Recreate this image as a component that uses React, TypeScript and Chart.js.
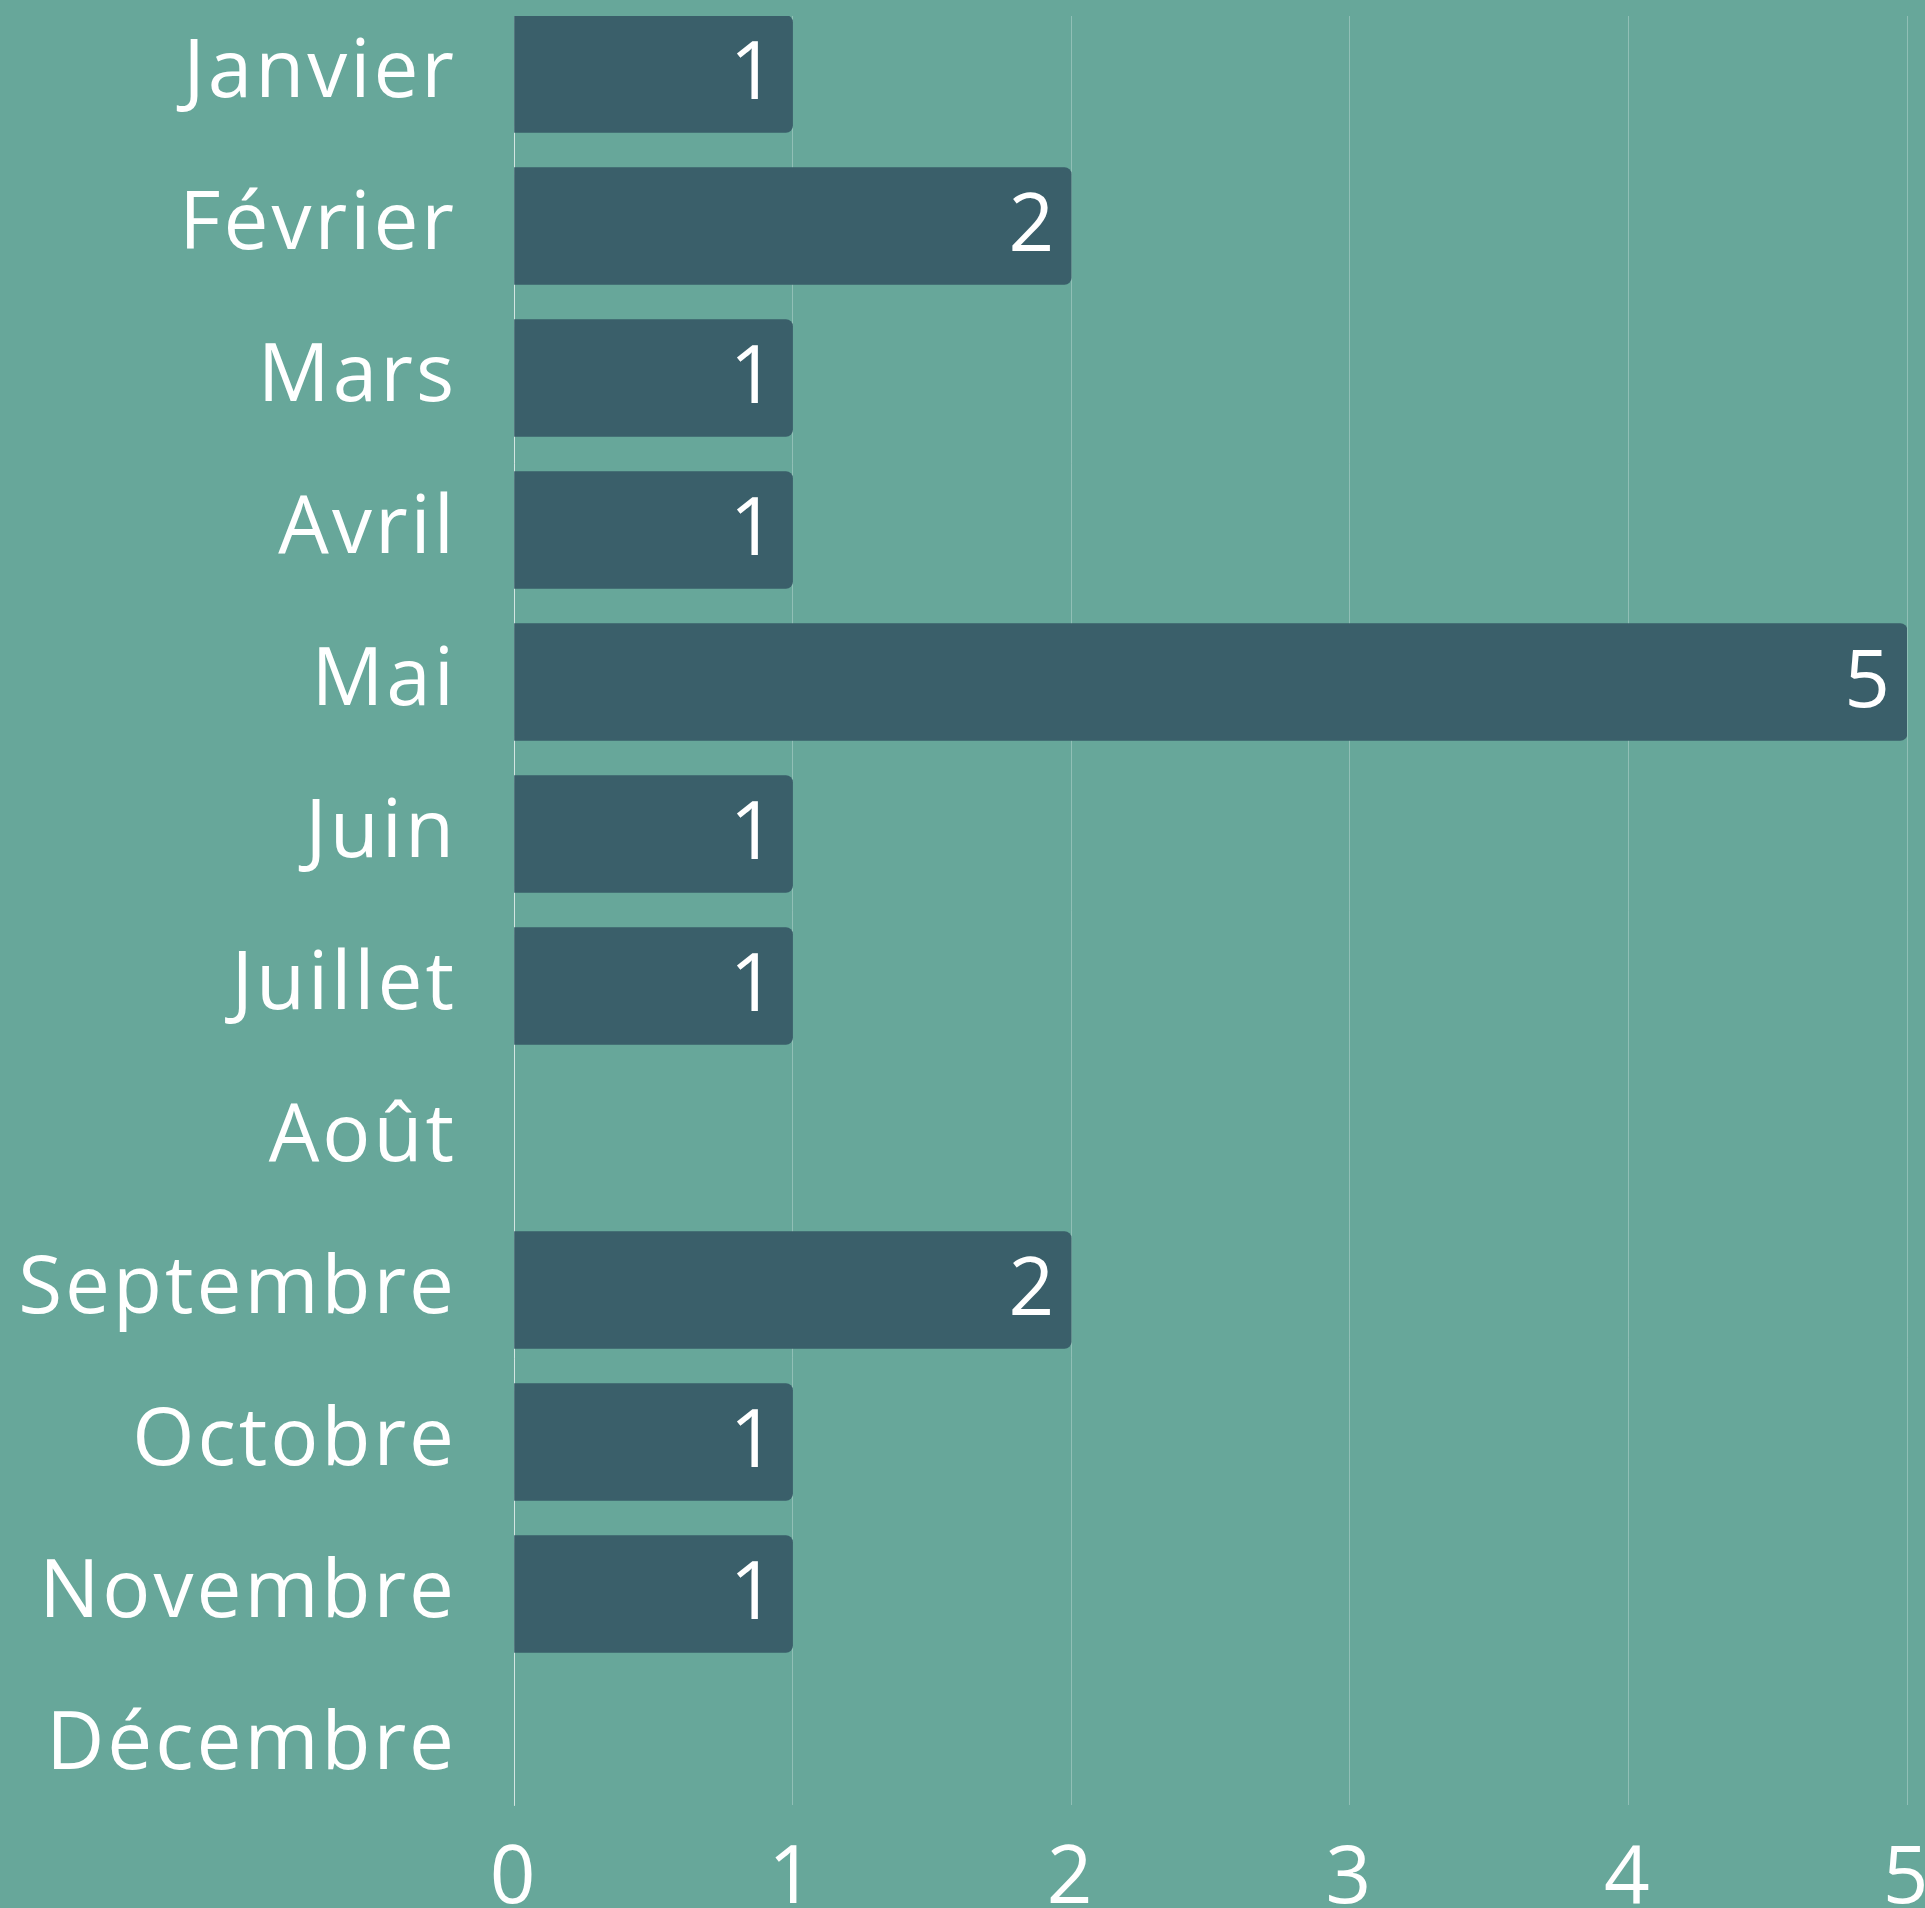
import React, { useEffect, useRef } from "react";
import { Chart, registerables } from "chart.js";

Chart.register(...registerables);

const months = [
  "Janvier", "Février", "Mars", "Avril", "Mai", "Juin",
  "Juillet", "Août", "Septembre", "Octobre", "Novembre", "Décembre",
];
const counts = [1, 2, 1, 1, 5, 1, 1, 0, 2, 1, 1, 0];
const xTicks = [0, 1, 2, 3, 4, 5];

const BG = "#67a79a";
const BAR = "#3a5f6a";
const FONT = "'Open Sans', 'Noto Sans', sans-serif";
const FS = 80;

const valueLabels = {
  id: "valueLabels",
  afterDatasetsDraw(chart: any) {
    const ctx = chart.ctx;
    const meta = chart.getDatasetMeta(0);
    ctx.save();
    ctx.letterSpacing = "0px";
    ctx.fillStyle = "#ffffff";
    ctx.font = `400 ${FS}px ${FONT}`;
    ctx.textAlign = "right";
    ctx.textBaseline = "middle";
    meta.data.forEach((el: any, i: number) => {
      const v = counts[i];
      if (!v) return;
      ctx.fillText(String(v), el.x - 17, el.y + 2);
    });
    ctx.restore();
  },
};

const bgPlugin = {
  id: "bgFill",
  beforeDraw(chart: any) {
    const ctx = chart.ctx;
    ctx.save();
    ctx.fillStyle = BG;
    ctx.fillRect(0, 0, chart.width, chart.height);
    ctx.restore();
    ctx.letterSpacing = "3px";
  },
};

export default function App() {
  const ref = useRef<HTMLCanvasElement | null>(null);
  useEffect(() => {
    document.body.style.margin = "0";
    document.body.style.background = BG;
    if (!ref.current) return;
    const chart = new Chart(ref.current, {
      type: "bar",
      data: {
        datasets: [
          {
            data: counts.map((v, i) => ({ x: v === 0 ? null : v, y: i })),
            backgroundColor: BAR,
            borderRadius: 7,
            borderSkipped: "start",
            barThickness: 117,
          },
        ],
      },
      options: {
        indexAxis: "y",
        responsive: false,
        animation: false,
        devicePixelRatio: 1,
        layout: { padding: { top: 16, right: 18, left: 0, bottom: 0 } },
        plugins: { legend: { display: false }, tooltip: { enabled: false } },
        scales: {
          y: {
            type: "linear",
            reverse: true,
            offset: false,
            min: -0.3816,
            max: 11.388,
            grid: { display: false, drawTicks: false, offset: false },
            border: { display: true, color: "rgba(255,255,255,0.6)", width: 1 },
            ticks: {
              stepSize: 1,
              includeBounds: false,
              autoSkip: false,
              padding: 57,
              color: "#ffffff",
              font: { family: FONT, size: FS },
              callback: (v: any) =>
                Number.isInteger(v) && months[v] !== undefined ? months[v] : "",
            },
            afterFit(scale: any) {
              scale.width = 514;
              scale.paddingTop = 0;
              scale.paddingBottom = 0;
            },
          },
          x: {
            type: "linear",
            min: xTicks[0],
            max: xTicks[xTicks.length - 1],
            grid: { color: "rgba(255,255,255,0.28)", lineWidth: 1, drawTicks: false },
            border: { display: false },
            ticks: {
              stepSize: 1,
              padding: 27,
              color: "#ffffff",
              font: { family: FONT, size: FS },
              maxRotation: 0,
            },
            afterFit(scale: any) {
              scale.height = 103;
              scale.paddingLeft = 0;
              scale.paddingRight = 0;
            },
          },
        },
      },
      plugins: [bgPlugin, valueLabels],
    });
    return () => chart.destroy();
  }, []);
  return (
    <div style={{ width: 1925, height: 1908, background: BG, overflow: "hidden" }}>
      <canvas ref={ref} width={1925} height={1908} style={{ display: "block" }} />
    </div>
  );
}
